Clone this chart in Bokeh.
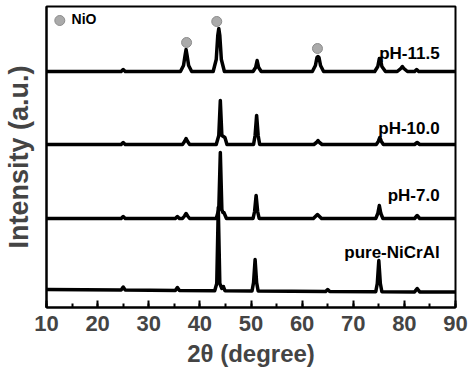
from bokeh.plotting import figure
from bokeh.models import Range1d, SingleIntervalTicker, Label
from bokeh.embed import file_html
from bokeh.resources import INLINE

# ---- data (2-theta in degrees, intensity in arbitrary stacked units) ----
pure_x = [10, 24.6, 25.0, 25.4, 35.2, 35.6, 36.0, 42.9, 43.3, 43.6, 43.9, 44.3, 44.6, 44.9,
          50.2, 50.5, 50.8, 51.1, 51.4, 64.6, 65.0, 65.4, 74.4, 74.7, 75.0, 75.3, 75.6,
          82.0, 82.5, 83.0, 90]
pure_y = [18, 17.6, 20.5, 17.6, 17, 20, 17, 16.8, 24, 100, 24, 19, 21, 16.8,
          16.5, 25, 48, 25, 16.5, 16, 18, 16, 15.8, 24, 47, 24, 15.8,
          15.6, 19, 15.6, 15.5]

ph7_x = [10, 24.6, 25.0, 25.4, 35.2, 35.6, 36.0, 36.6, 37.0, 37.3, 37.6, 38.0,
         43.2, 43.7, 44.0, 44.3, 44.5, 44.7, 45.2, 50.4, 50.7, 51.0, 51.3, 51.6,
         62.2, 62.7, 63.0, 63.3, 63.8, 74.4, 74.8, 75.1, 75.4, 75.8, 82.0, 82.5, 83.0, 90]
ph7_y = [89, 89, 91, 89, 89, 91, 89, 89, 91.5, 94, 91.5, 89,
         89, 98, 155, 98, 95, 95, 89, 89, 96, 112, 96, 89,
         89, 91.5, 93, 91.5, 89, 89, 94, 102, 94, 89, 89, 92, 89, 89]

ph10_x = [10, 24.6, 25.0, 25.4, 36.6, 37.0, 37.3, 37.6, 38.0, 43.2, 43.7, 44.0, 44.3,
          44.6, 44.9, 45.3, 50.5, 50.8, 51.1, 51.4, 51.7, 62.3, 62.8, 63.1, 63.4, 63.9,
          74.5, 74.9, 75.2, 75.5, 75.9, 82.0, 82.5, 83.0, 90]
ph10_y = [163, 163, 165, 163, 163, 166, 169, 166, 163, 163, 172, 207, 172,
          171, 170, 163, 163, 172, 192, 172, 163, 163, 165, 167, 165, 163,
          163, 166, 170, 166, 163, 163, 165, 163, 163]

ph115_x = [10, 24.6, 25.0, 25.4,
           36.2, 36.8, 37.1, 37.3, 37.5, 37.8, 38.4,
           42.6, 43.2, 43.5, 43.7, 43.9, 44.2, 44.8,
           50.4, 50.9, 51.2, 51.5, 52.0,
           62.0, 62.6, 62.9, 63.1, 63.3, 63.6, 64.2,
           74.2, 74.8, 75.1, 75.3, 75.6, 76.3,
           78.6, 79.3, 79.6, 79.9, 80.6,
           82.0, 82.4, 82.8, 90]
ph115_y = [236, 236, 238, 236,
           236, 242, 252, 258, 252, 242, 236,
           236, 248, 272, 279, 272, 248, 236,
           236, 240, 247, 240, 236,
           236, 242, 250, 251, 250, 242, 236,
           236, 241, 249, 249, 241, 236,
           236, 239, 241, 239, 236,
           236, 238, 236, 236]

nio_x = [37.4, 43.3, 63.0]
nio_y = [265, 286, 259]

sample_names = ["pH-11.5", "pH-10.0", "pH-7.0", "pure-NiCrAl"]
label_y = [254, 179, 112, 55]
x_ticks_interval = 10

# ---- figure ----
p = figure(width=474, height=377, output_backend="svg", toolbar_location=None,
           x_range=Range1d(10, 90), y_range=Range1d(0, 301),
           min_border_left=46, min_border_right=19, min_border_top=6, min_border_bottom=70)
p.background_fill_color = "white"
p.border_fill_color = "white"
p.outline_line_color = "black"
p.outline_line_width = 2
p.xgrid.visible = False
p.ygrid.visible = False

for xs, ys in [(pure_x, pure_y), (ph7_x, ph7_y), (ph10_x, ph10_y), (ph115_x, ph115_y)]:
    p.line(xs, ys, line_color="black", line_width=3.5, line_join="round")

# NiO markers
p.scatter(nio_x, nio_y, size=10, fill_color="#aaaaaa", line_color="#8c8c8c", line_width=1)
p.scatter([12.6], [287], size=10, fill_color="#aaaaaa", line_color="#8c8c8c", line_width=1)
p.add_layout(Label(x=14.9, y=281, text="NiO", text_font="Liberation Sans",
                   text_font_style="bold", text_font_size="14px", text_color="black"))

for name, ly in zip(sample_names, label_y):
    p.add_layout(Label(x=86.9, y=ly, text=name, text_align="right",
                       text_baseline="alphabetic", text_font="Liberation Sans",
                       text_font_style="bold", text_font_size="17px", text_color="black"))

# x axis
p.xaxis.ticker = SingleIntervalTicker(interval=x_ticks_interval, num_minor_ticks=2)
p.xaxis.axis_label = "2θ (degree)"
p.xaxis.axis_label_text_font = "Liberation Sans"
p.xaxis.axis_label_text_font_style = "bold"
p.xaxis.axis_label_text_font_size = "24px"
p.xaxis.axis_label_standoff = 6
p.xaxis.major_label_text_font = "Liberation Sans"
p.xaxis.major_label_text_font_style = "bold"
p.xaxis.major_label_text_font_size = "22px"
p.xaxis.major_label_standoff = 8
p.xaxis.axis_line_width = 2
p.xaxis.axis_line_color = "black"
p.xaxis.major_tick_in = 7
p.xaxis.major_tick_out = 0
p.xaxis.minor_tick_in = 4
p.xaxis.minor_tick_out = 0
p.xaxis.major_tick_line_width = 2
p.xaxis.minor_tick_line_width = 2
p.xaxis.major_tick_line_color = "black"
p.xaxis.minor_tick_line_color = "black"

# y axis
p.yaxis.ticker = []
p.yaxis.major_tick_line_color = None
p.yaxis.minor_tick_line_color = None
p.yaxis.major_label_text_font_size = "0px"
p.yaxis.axis_label = "Intensity (a.u.)"
p.yaxis.axis_label_text_font = "Liberation Sans"
p.yaxis.axis_label_text_font_style = "bold"
p.yaxis.axis_label_text_font_size = "27px"
p.yaxis.axis_label_standoff = 13
p.yaxis.axis_line_width = 2
p.yaxis.axis_line_color = "black"

open("out.html", "w").write(file_html(p, INLINE))
